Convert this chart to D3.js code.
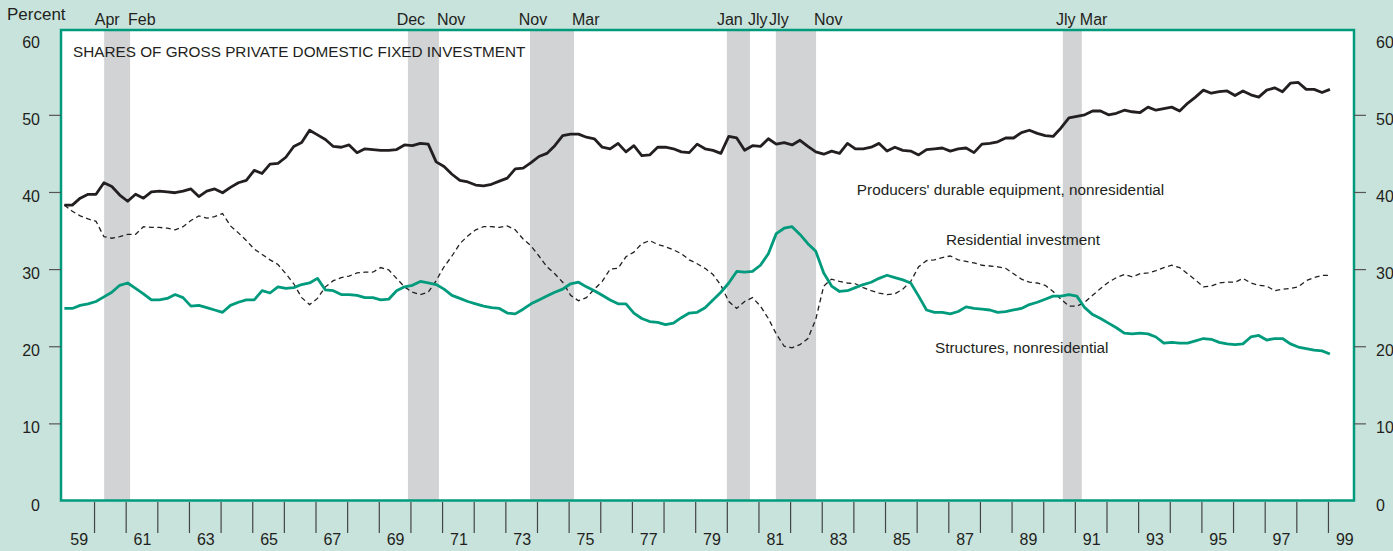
<!DOCTYPE html>
<html>
<head>
<meta charset="utf-8">
<script src="https://cdn.jsdelivr.net/npm/d3@7/dist/d3.min.js"></script>
<style>
  body { margin: 0; background: #c8e3dc; }
  svg { display: block; font-family: "Liberation Sans", Arial, Helvetica, sans-serif; }
</style>
</head>
<body>
<svg id="chart" width="1393" height="551"></svg>
<script>
// shares of gross private domestic fixed investment, percent, quarterly 1959:Q1 - 1999:Q1
var firstYear = 1959;

var equipment = [
    38.3, 38.3, 39.2, 39.7,  39.7, 41.2, 40.7, 39.6,  38.8, 39.7, 39.2, 40.0,  40.1, 40.0, 39.9, 40.1,
    40.4, 39.4, 40.1, 40.4,  39.9, 40.6, 41.2, 41.5,  42.8, 42.4, 43.6, 43.7,  44.5, 45.9, 46.4, 48.0,
    47.4, 46.8, 45.9, 45.8,  46.1, 45.1, 45.6, 45.5,  45.4, 45.4, 45.5, 46.1,  46.0, 46.3, 46.2, 43.9,
    43.3, 42.3, 41.5, 41.3,  40.9, 40.8, 41.0, 41.4,  41.8, 43.0, 43.1, 43.8,  44.6, 45.0, 46.0, 47.3,
    47.5, 47.5, 47.1, 46.9,  45.8, 45.6, 46.3, 45.2,  46.0, 44.7, 44.8, 45.8,  45.8, 45.6, 45.2, 45.1,
    46.2, 45.6, 45.4, 45.0,  47.2, 47.0, 45.4, 46.0,  45.9, 46.9, 46.2, 46.4,  46.1, 46.7, 45.9, 45.2,
    44.9, 45.3, 45.0, 46.3,  45.6, 45.6, 45.8, 46.3,  45.3, 45.8, 45.4, 45.3,  44.8, 45.5, 45.6, 45.7,
    45.3, 45.6, 45.7, 45.1,  46.2, 46.3, 46.5, 47.0,  47.0, 47.7, 48.0, 47.6,  47.3, 47.2, 48.3, 49.6,
    49.8, 50.0, 50.5, 50.5,  50.0, 50.2, 50.6, 50.4,  50.3, 51.0, 50.6, 50.8,  51.0, 50.5, 51.5, 52.3,
    53.2, 52.8, 53.0, 53.1,  52.5, 53.1, 52.6, 52.3,  53.2, 53.5, 53.0, 54.1,  54.2, 53.3, 53.3, 52.9,
    53.3
];

var residential = [
    38.3, 37.5, 36.9, 36.5,  36.2, 34.2, 34.0, 34.2,  34.5, 34.5, 35.5, 35.4,  35.4, 35.3, 35.1, 35.5,
    36.3, 36.9, 36.6, 36.8,  37.2, 35.6, 34.7, 33.7,  32.6, 31.9, 31.2, 30.6,  29.4, 28.1, 26.3, 25.4,
    26.2, 27.7, 28.5, 28.9,  29.1, 29.5, 29.6, 29.6,  30.2, 29.9, 28.8, 27.7,  27.0, 26.7, 27.0, 28.5,
    30.3, 31.7, 33.3, 34.3,  35.1, 35.5, 35.5, 35.4,  35.6, 35.1, 33.9, 33.0,  31.7, 30.3, 29.4, 28.3,
    26.6, 25.9, 26.3, 27.4,  28.4, 30.0, 30.1, 31.6,  32.2, 33.3, 33.7, 33.2,  32.9, 32.5, 32.0, 31.2,
    30.7, 30.1, 29.3, 27.9,  25.8, 24.9, 25.8, 26.3,  25.2, 23.6, 21.6, 20.0,  19.8, 20.2, 21.0, 23.5,
    27.8, 28.7, 28.4, 28.2,  28.1, 27.6, 27.2, 26.9,  26.7, 26.8, 27.4, 28.4,  30.3, 31.1, 31.2, 31.5,
    31.7, 31.2, 31.0, 30.8,  30.5, 30.4, 30.3, 30.1,  29.4, 28.7, 28.3, 28.2,  27.9, 27.1, 26.1, 25.2,
    25.2, 25.7, 26.6, 27.5,  28.3, 28.9, 29.3, 29.0,  29.4, 29.5, 29.8, 30.2,  30.5, 30.2, 29.4, 28.6,
    27.7, 27.8, 28.2, 28.3,  28.3, 28.8, 28.2, 27.9,  27.8, 27.2, 27.4, 27.5,  27.7, 28.5, 28.9, 29.2,
    29.2
];

var structures = [
    24.9, 24.9, 25.3, 25.5,  25.8, 26.4, 27.0, 27.9,  28.2, 27.5, 26.8, 26.0,  26.0, 26.2, 26.7, 26.3,
    25.2, 25.3, 25.0, 24.7,  24.4, 25.3, 25.7, 26.0,  26.0, 27.2, 26.9, 27.7,  27.5, 27.6, 28.0, 28.2,
    28.8, 27.3, 27.2, 26.7,  26.7, 26.6, 26.3, 26.3,  26.0, 26.1, 27.2, 27.7,  27.9, 28.4, 28.2, 28.0,
    27.4, 26.6, 26.2, 25.8,  25.5, 25.2, 25.0, 24.9,  24.3, 24.2, 24.8, 25.5,  26.0, 26.5, 27.0, 27.4,
    28.1, 28.3, 27.7, 27.2,  26.6, 26.0, 25.5, 25.5,  24.3, 23.6, 23.2, 23.1,  22.8, 23.0, 23.7, 24.3,
    24.4, 25.0, 26.0, 27.0,  28.2, 29.7, 29.6, 29.7,  30.5, 32.0, 34.6, 35.3,  35.5, 34.5, 33.3, 32.3,
    29.5, 27.8, 27.1, 27.2,  27.6, 28.0, 28.3, 28.8,  29.2, 28.9, 28.6, 28.2,  26.5, 24.7, 24.4, 24.4,
    24.2, 24.5, 25.1, 24.9,  24.8, 24.7, 24.4, 24.5,  24.7, 24.9, 25.4, 25.7,  26.1, 26.5, 26.5, 26.7,
    26.5, 25.0, 24.1, 23.6,  23.0, 22.4, 21.7, 21.6,  21.7, 21.6, 21.2, 20.4,  20.5, 20.4, 20.4, 20.7,
    21.0, 20.9, 20.5, 20.3,  20.2, 20.3, 21.2, 21.4,  20.8, 21.0, 21.0, 20.3,  19.9, 19.7, 19.5, 19.4,
    19.0
];

// recession shading (decimal years) with the month names printed above the panel
var recessionStart = [1960.32, 1969.92, 1973.78, 1980.00, 1981.55, 1990.62];
var recessionEnd   = [1961.14, 1970.90, 1975.17, 1980.73, 1982.82, 1991.22];
var startMonths = ['Apr', 'Dec', 'Nov', 'Jan', 'Jly', 'Jly'];
var endMonths   = ['Feb', 'Nov', 'Mar', 'Jly', 'Nov', 'Mar'];

var yTickValues = [0, 10, 20, 30, 40, 50, 60];
var yearTicks = d3.range(1960, 2000);
var yearLabels = d3.range(1959, 2000, 2);

var title = 'SHARES OF GROSS PRIVATE DOMESTIC FIXED INVESTMENT';
var seriesLabels = ["Producers' durable equipment, nonresidential", 'Residential investment', 'Structures, nonresidential'];
var labelPoints = [[1984.11, 39.6], [1986.93, 33.1], [1986.58, 19.1]]; // [year, percent] at each label's baseline start

var teal = '#009b7d', ink = '#231f20';

var svg = d3.select('#chart');
var plot = { left: 61, top: 30, right: 1354, bottom: 500.5 };

var x = d3.scaleLinear().domain([1959, 2000]).range([62.4, 1359.6]);
var y = d3.scaleLinear().domain([0, 61]).range([plot.bottom, plot.top]);

svg.append('rect')
    .attr('width', 1393).attr('height', 551)
    .attr('fill', '#c8e3dc');

svg.append('rect')
    .attr('x', plot.left).attr('y', plot.top)
    .attr('width', plot.right - plot.left).attr('height', plot.bottom - plot.top)
    .attr('fill', '#fff');

// recession bars
svg.append('g').selectAll('rect')
    .data(recessionStart)
    .enter().append('rect')
    .attr('x', function(d) { return x(d); })
    .attr('y', plot.top)
    .attr('width', function(d, i) { return x(recessionEnd[i]) - x(d); })
    .attr('height', plot.bottom - plot.top)
    .attr('fill', '#d1d3d4');

var monthText = svg.append('g')
    .attr('font-size', 16)
    .attr('fill', ink);

monthText.selectAll('text.start')
    .data(recessionStart)
    .enter().append('text')
    .attr('class', 'start')
    .attr('x', function(d) { return x(d) + 3; })
    .attr('y', 25)
    .attr('text-anchor', 'middle')
    .text(function(d, i) { return startMonths[i]; });

monthText.selectAll('text.end')
    .data(recessionEnd)
    .enter().append('text')
    .attr('class', 'end')
    .attr('x', function(d) { return x(d) - 2; })
    .attr('y', 25)
    .text(function(d, i) { return endMonths[i]; });

// series
var quarterDate = function(i) { return firstYear + i / 4 + 1 / 16; };
var line = d3.line()
    .x(function(d, i) { return x(quarterDate(i)); })
    .y(function(d) { return y(d); });

svg.append('path')
    .datum(residential)
    .attr('d', line)
    .attr('fill', 'none')
    .attr('stroke', ink)
    .attr('stroke-width', 1.3)
    .attr('stroke-dasharray', '5,3.5');

svg.append('path')
    .datum(structures)
    .attr('d', line)
    .attr('fill', 'none')
    .attr('stroke', teal)
    .attr('stroke-width', 2.8)
    .attr('stroke-linejoin', 'round');

svg.append('path')
    .datum(equipment)
    .attr('d', line)
    .attr('fill', 'none')
    .attr('stroke', ink)
    .attr('stroke-width', 2.8)
    .attr('stroke-linejoin', 'round');

// panel border
svg.append('rect')
    .attr('x', plot.left).attr('y', plot.top)
    .attr('width', plot.right - plot.left).attr('height', plot.bottom - plot.top)
    .attr('fill', 'none')
    .attr('stroke', teal)
    .attr('stroke-width', 2.5);

// axes
function styleAxis(g) {
    g.select('.domain').remove();
    g.selectAll('.tick line').attr('stroke', '#555').attr('stroke-width', 1.2);
    g.selectAll('.tick text').attr('fill', ink).attr('font-size', 16).attr('dy', '0.6em');
    g.selectAll('.tick').filter(function(d) { return d === 0 || d === 60; })
        .select('line').remove();
    g.attr('font-family', null);
}

svg.append('g')
    .attr('transform', 'translate(' + plot.left + ',0)')
    .call(d3.axisLeft(y).tickValues(yTickValues).tickSize(12).tickPadding(9))
    .call(styleAxis);

svg.append('g')
    .attr('transform', 'translate(' + plot.right + ',0)')
    .call(d3.axisRight(y).tickValues(yTickValues).tickSize(12).tickPadding(10))
    .call(styleAxis);

var xAxis = svg.append('g')
    .attr('transform', 'translate(0,502)')
    .call(d3.axisBottom(x).tickValues(yearTicks).tickSize(31).tickFormat(''));
xAxis.select('.domain').remove();
xAxis.selectAll('.tick line').attr('stroke', '#444').attr('stroke-width', 1.2);

svg.append('g').selectAll('text')
    .data(yearLabels)
    .enter().append('text')
    .attr('x', function(d) { return x(d + 0.5) + 1; })
    .attr('y', 545)
    .attr('text-anchor', 'middle')
    .attr('font-size', 16)
    .attr('fill', ink)
    .text(function(d) { return String(d).slice(2); });

svg.append('text')
    .attr('x', 7).attr('y', 20)
    .attr('font-size', 17)
    .attr('fill', ink)
    .text('Percent');

svg.append('text')
    .attr('x', 73).attr('y', 57)
    .attr('font-size', 15.3)
    .attr('fill', ink)
    .text(title);

svg.append('g').selectAll('text')
    .data(seriesLabels)
    .enter().append('text')
    .attr('x', function(d, i) { return x(labelPoints[i][0]); })
    .attr('y', function(d, i) { return y(labelPoints[i][1]); })
    .attr('font-size', 15.3)
    .attr('fill', ink)
    .text(function(d) { return d; });
</script>
</body>
</html>
